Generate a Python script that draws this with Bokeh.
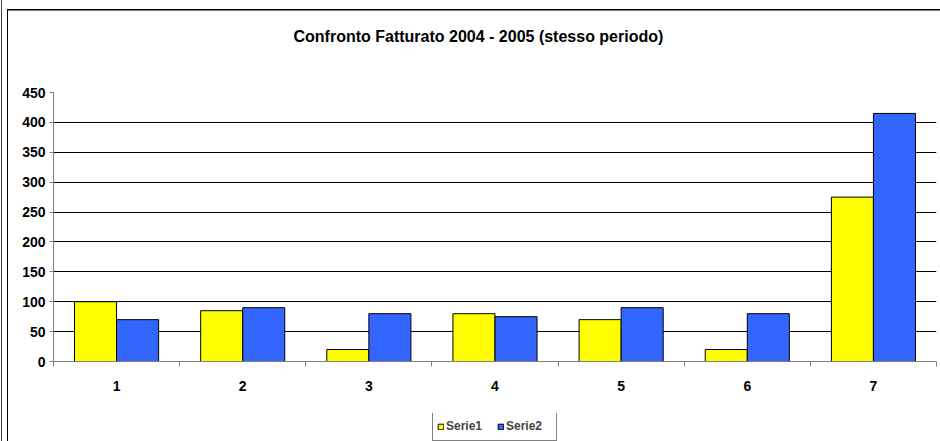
from bokeh.plotting import figure
from bokeh.layouts import column
from bokeh.models import (Range1d, FixedTicker, Legend, LegendItem,
                          ColumnDataSource, Title)
from bokeh.transform import dodge
from bokeh.embed import file_html
from bokeh.resources import INLINE

categories = [1, 2, 3, 4, 5, 6, 7]
serie1 = [100, 85, 20, 80, 70, 20, 275]
serie2 = [70, 90, 80, 75, 90, 80, 415]
y_ticks = [0, 50, 100, 150, 200, 250, 300, 350, 400, 450]
title_text = "Confronto Fatturato 2004 - 2005 (stesso periodo)"
series_names = ["Serie1", "Serie2"]

FONT = "Liberation Sans"
YELLOW, BLUE = "#FFFF00", "#3366FF"

# plot frame in page pixels; legend strip height at the bottom
FL, FR, FT, FB = 53, 936, 92, 361
LEG_H = 28
H1 = 441 - LEG_H

src = ColumnDataSource(dict(x=categories, s1=serie1, s2=serie2))

# ---------------- main chart ----------------
p = figure(width=940, height=H1, output_backend="svg", toolbar_location=None,
           x_range=Range1d(0.5, 7.5), y_range=Range1d(0, 450),
           min_border_left=FL, min_border_right=940 - FR,
           min_border_top=FT, min_border_bottom=H1 - FB)
p.outline_line_color = None
p.background_fill_color = "white"
p.border_fill_color = None

p.vbar(x=dodge("x", -1/6, range=p.x_range), top="s1", width=1/3, source=src,
       fill_color=YELLOW, line_color="black", line_width=1)
p.vbar(x=dodge("x", 1/6, range=p.x_range), top="s2", width=1/3, source=src,
       fill_color=BLUE, line_color="black", line_width=1)

# blank spacer between the frame and the title (lifts the title up)
p.add_layout(Title(text=" ", text_font_size="16px", standoff=24), "above")

p.title.text = title_text
p.title.text_font = FONT
p.title.text_font_style = "bold"
p.title.text_font_size = "16px"
p.title.text_color = "black"
p.title.align = "left"
p.title.offset = 293 - FL

p.xaxis.ticker = FixedTicker(ticks=categories,
                             minor_ticks=[c - 0.5 for c in categories] + [categories[-1] + 0.5])
p.xaxis.major_tick_out = 0
p.xaxis.major_tick_in = 0
p.xaxis.minor_tick_out = 5
p.xaxis.minor_tick_in = 0
p.xaxis.minor_tick_line_color = "#808080"
p.xaxis.axis_line_color = "#808080"
p.xaxis.major_label_text_font = FONT
p.xaxis.major_label_text_font_style = "bold"
p.xaxis.major_label_text_font_size = "14px"
p.xaxis.major_label_text_color = "black"
p.xaxis.major_label_standoff = 14

p.yaxis.ticker = FixedTicker(ticks=y_ticks)
p.yaxis.major_tick_out = 4
p.yaxis.major_tick_in = 0
p.yaxis.minor_tick_line_color = None
p.yaxis.major_tick_line_color = "#808080"
p.yaxis.axis_line_color = "#808080"
p.yaxis.major_label_text_font = FONT
p.yaxis.major_label_text_font_style = "bold"
p.yaxis.major_label_text_font_size = "14px"
p.yaxis.major_label_text_color = "black"
p.yaxis.major_label_standoff = 4

p.xgrid.grid_line_color = None
p.ygrid.grid_line_color = "black"
p.ygrid.grid_line_width = 1

# ---------------- legend strip ----------------
q = figure(width=940, height=LEG_H, output_backend="svg", toolbar_location=None,
           x_range=Range1d(0, 1), y_range=Range1d(10000, 10001),
           x_axis_location=None, y_axis_location=None,
           min_border_left=0, min_border_right=0, min_border_top=0,
           min_border_bottom=0)
q.outline_line_color = None
q.background_fill_color = None
q.border_fill_color = None
q.grid.grid_line_color = None
# same series drawn out of view; only their legend swatches show
l1 = q.vbar(x="x", top="s1", width=0.1, source=src,
            fill_color=YELLOW, line_color="black", line_width=1)
l2 = q.vbar(x="x", top="s2", width=0.1, source=src,
            fill_color=BLUE, line_color="black", line_width=1)

legend = Legend(items=[LegendItem(label=series_names[0], renderers=[l1]),
                       LegendItem(label=series_names[1], renderers=[l2])],
                orientation="horizontal", location=(433 - 54, 0),
                label_text_font=FONT, label_text_font_style="bold",
                label_text_font_size="12px", glyph_width=7, glyph_height=7,
                label_standoff=2, spacing=5, padding=4, margin=0,
                label_width=46, label_height=20,
                border_line_color="black", border_line_width=1,
                background_fill_color="white")
q.add_layout(legend, "center")

# outer chart border lines (inset shadows behind the transparent canvases)
frame_css = ("inset 1px 0 0 0 #ffffff, inset 2px 0 0 0 #444444, "
             "inset 7px 9px 0 0 #ffffff, inset 8px 10.5px 0 0 #000000")
layout = column(p, q, spacing=0,
                styles={"box-shadow": frame_css, "background-color": "white"})

open("out.html", "w").write(file_html(layout, INLINE))
